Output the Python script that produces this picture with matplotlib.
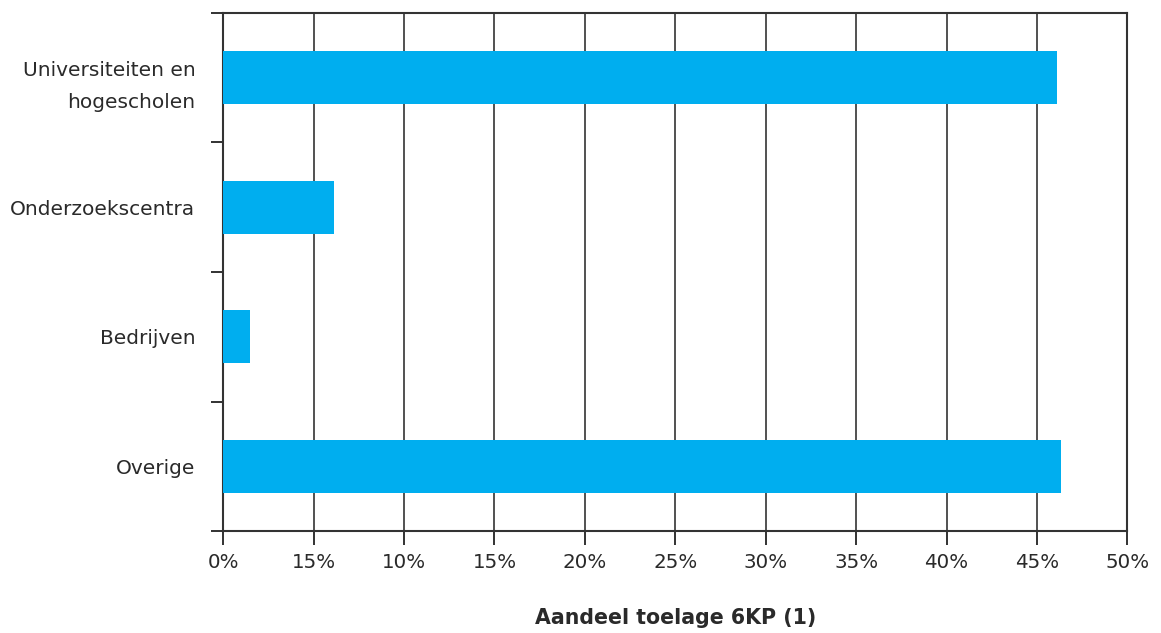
import matplotlib.pyplot as plt
from matplotlib.ticker import FixedLocator

categories = ["Universiteiten en\nhogescholen", "Onderzoekscentra", "Bedrijven", "Overige"]
values = [46.1, 6.15, 1.5, 46.35]
tick_values = [0, 5, 10, 15, 20, 25, 30, 35, 40, 45, 50]
tick_labels = ["0%", "15%", "10%", "15%", "20%", "25%", "30%", "35%", "40%", "45%", "50%"]

plt.rcParams["font.family"] = ["DejaVu Sans"]

fig = plt.figure(figsize=(11.61, 6.33), dpi=100)
ax = fig.add_axes([0.1923, 0.1611, 0.7787, 0.8184])

ypos = list(range(len(categories)))
ax.barh(ypos, values, height=0.41, color="#00AEEF", zorder=3)
ax.set_ylim(3.5, -0.5)
ax.set_xlim(0, 50)

ax.xaxis.set_major_locator(FixedLocator(tick_values))
ax.set_xticklabels(tick_labels, fontsize=14.3, color="#2a2a2a")
ax.set_yticks(ypos)
ax.set_yticklabels(categories, fontsize=14.5, color="#2a2a2a", linespacing=1.9)
ax.yaxis.set_minor_locator(FixedLocator([-0.5, 0.5, 1.5, 2.5, 3.5]))
ax.tick_params(axis="y", which="major", length=0, pad=20)
ax.tick_params(axis="y", which="minor", length=9, width=1.3, color="#222222")
ax.tick_params(axis="x", length=10, width=1.3, color="#222222", pad=6)

ax.grid(axis="x", color="#333333", linewidth=1.2, zorder=1)
for s in ["left", "bottom", "top", "right"]:
    ax.spines[s].set_color("#333333")
    ax.spines[s].set_linewidth(1.5)

ax.set_xlabel("Aandeel toelage 6KP (1)", fontsize=14.8, fontweight="bold",
              color="#2a2a2a", labelpad=26)

fig.savefig("out.png", dpi=100)
